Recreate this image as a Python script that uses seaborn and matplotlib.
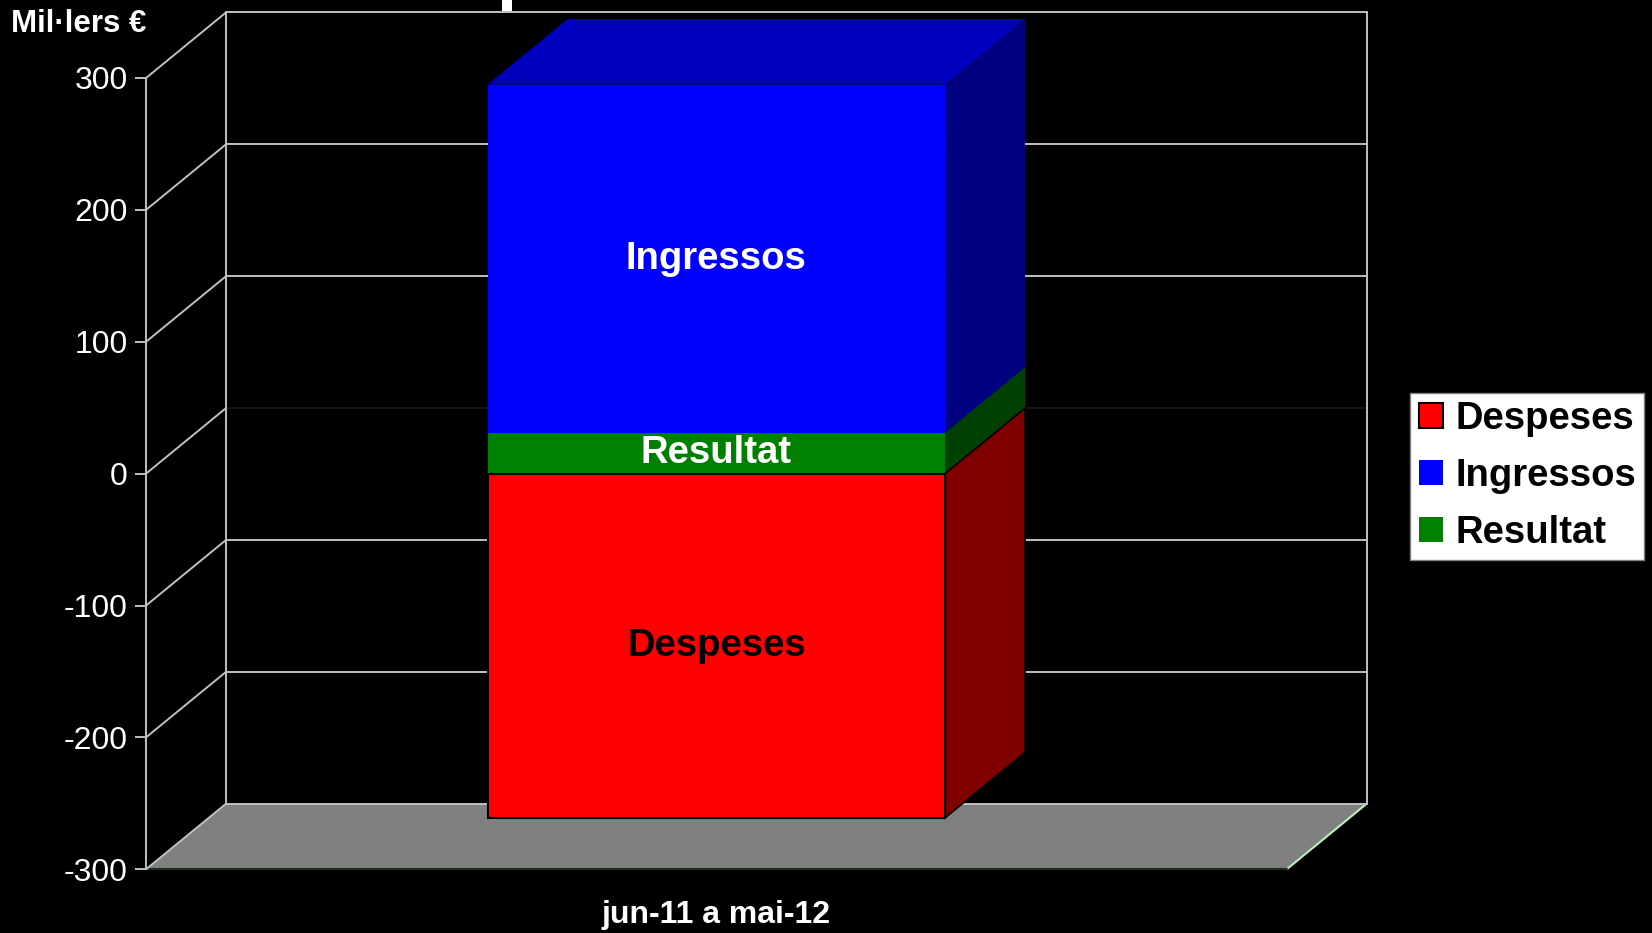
import matplotlib.pyplot as plt
import seaborn as sns
import pandas as pd
from matplotlib.patches import Polygon, Patch, Rectangle

# Dades (milers d'euros), barres superposades
periode = ["jun-11 a mai-12"]
despeses = [-261]
ingressos = [295]
resultat = [31]

series = ["Despeses", "Ingressos", "Resultat"]
yticks = [-300, -200, -100, 0, 100, 200, 300]

df = pd.DataFrame({"periode": periode, "Despeses": despeses,
                   "Ingressos": ingressos, "Resultat": resultat})

colors = {"Despeses": "#ff0000", "Ingressos": "#0000ff", "Resultat": "#008000"}
side_colors = {"Despeses": "#800000", "Ingressos": "#000080", "Resultat": "#004000"}
top_colors = {"Ingressos": "#0000c0"}
label_colors = {"Despeses": "black", "Ingressos": "white", "Resultat": "white"}

sns.set_theme(style="dark", rc={"axes.facecolor": "black", "figure.facecolor": "black"})
plt.rcParams['font.family'] = ['Liberation Sans', 'DejaVu Sans']

fig = plt.figure(figsize=(16.52, 9.33), dpi=100, facecolor='black')
ax = fig.add_axes([0.0884, 0.0683, 0.6905, 0.8481])
ax.set_facecolor('none')

ymin, ymax = -300, 300
x0, x1 = -0.5, 0.5
dx, dy = 0.0701, 49.7   # profunditat de l'efecte 3D
bw = 0.401
grid = '#c0c0c0'

# terra
ax.add_patch(Polygon([(x0, ymin), (x1, ymin), (x1 + dx, ymin + dy), (x0 + dx, ymin + dy)],
                     closed=True, fc='#808080', ec='none', clip_on=False, zorder=1))
ax.plot([x1, x1 + dx], [ymin, ymin + dy], color='#b8f0b8', lw=1.5, clip_on=False, zorder=2)
ax.plot([x0, x1], [ymin, ymin], color='#1e2e1e', lw=1.5, clip_on=False, zorder=2)

# parets i linies de graella
for v in yticks:
    ax.plot([x0, x0 + dx], [v, v + dy], color=grid, lw=1.4, clip_on=False, zorder=2)
    ax.plot([x0 + dx, x1 + dx], [v + dy, v + dy], color='#161616' if v == 0 else grid,
            lw=1.4, clip_on=False, zorder=2)
for xx in (x0 + dx, x1 + dx):
    ax.plot([xx, xx], [ymin + dy, ymax + dy], color=grid, lw=1.4, clip_on=False, zorder=2)

# cares laterals i superiors de les barres
xl, xr = -bw / 2, bw / 2
for name in ["Ingressos", "Resultat", "Despeses"]:
    v = df[name].iloc[0]
    ec = 'black' if name == "Despeses" else 'none'
    ax.add_patch(Polygon([(xr, 0), (xr + dx, dy), (xr + dx, v + dy), (xr, v)], closed=True,
                         fc=side_colors[name], ec=ec, lw=1.2, clip_on=False, zorder=3))
    if name in top_colors:
        ax.add_patch(Polygon([(xl, v), (xr, v), (xr + dx, v + dy), (xl + dx, v + dy)], closed=True,
                             fc=top_colors[name], ec='none', clip_on=False, zorder=3))

# cares frontals
for name in ["Ingressos", "Resultat", "Despeses"]:
    sns.barplot(data=df, x="periode", y=name, color=colors[name], saturation=1, width=bw,
                edgecolor='black' if name == "Despeses" else 'none', linewidth=1.5,
                zorder=4, ax=ax)

# etiquetes dins les barres
mids = {"Ingressos": (resultat[0] + ingressos[0]) / 2, "Resultat": resultat[0] / 2,
        "Despeses": despeses[0] / 2}
for name in series:
    ax.text(0, mids[name], name, ha='center', va='center', color=label_colors[name],
            fontsize=27.5, fontweight='bold', zorder=5)

ax.set_xlim(x0, x1)
ax.set_ylim(ymin, ymax)
ax.set_yticks(yticks)
ax.set_yticklabels([str(t) for t in yticks])
ax.set_xlabel("")
ax.set_ylabel("")
ax.grid(False)
for s in ["top", "right", "bottom"]:
    ax.spines[s].set_visible(False)
ax.spines["left"].set_color(grid)
ax.spines["left"].set_linewidth(1.4)
ax.tick_params(axis='y', left=True, length=8, width=1.4, color=grid, pad=5,
               labelsize=23, labelcolor='white')
ax.tick_params(axis='x', length=0, pad=22, labelsize=23, labelcolor='white')
for lab in ax.get_xticklabels():
    lab.set_fontweight('bold')

fig.text(10.7 / 1652, 1 - 31.7 / 933, "Mil·lers €", color='white', fontsize=22.5,
         fontweight='bold', ha='left', va='baseline')
fig.patches.append(Rectangle((502 / 1652, 1 - 11 / 933), 10 / 1652, 11 / 933,
                             transform=fig.transFigure, fc='white', ec='none'))

handles = [Patch(fc=colors["Despeses"], ec='black', lw=1.5),
           Patch(fc=colors["Ingressos"], ec='none'),
           Patch(fc=colors["Resultat"], ec='none')]
fig.legend(handles, series, loc='center', bbox_to_anchor=(0.9246, 0.4895), frameon=True,
           fancybox=False, facecolor='white', edgecolor='#808080', framealpha=1,
           prop={'weight': 'bold', 'size': 27.5}, labelcolor='black',
           handlelength=0.63, handleheight=0.63, handletextpad=0.32,
           labelspacing=0.55, borderpad=0.22)

fig.savefig("out.png", dpi=100, facecolor='black')
